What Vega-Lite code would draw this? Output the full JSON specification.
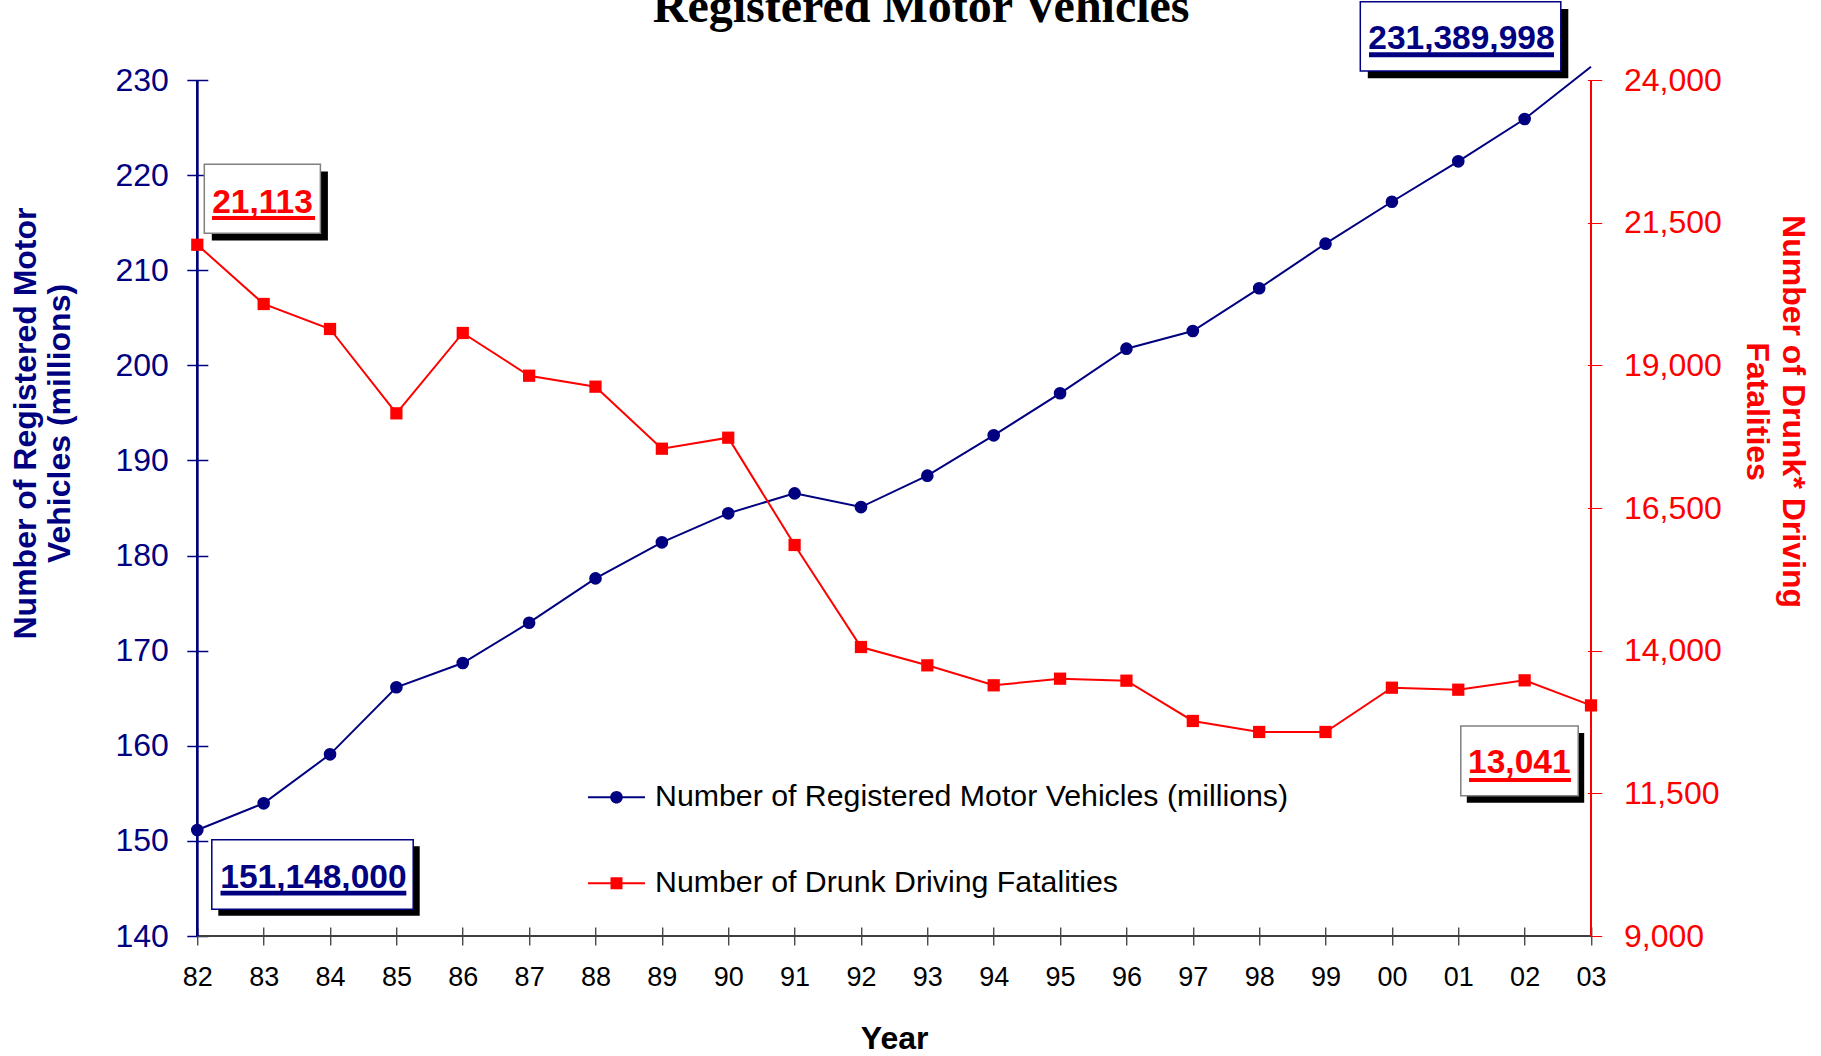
{
  "$schema": "https://vega.github.io/schema/vega-lite/v6.json",
  "width": 1393.7,
  "height": 856,
  "autosize": {"type": "none"},
  "padding": {"left": 197.3, "top": 80, "right": 230, "bottom": 120},
  "background": "white",
  "title": {"text": "Registered Motor Vehicles", "font": "Liberation Serif", "fontSize": 48, "fontWeight": "bold", "color": "black", "anchor": "middle", "frame": "group", "baseline": "alphabetic", "offset": 0, "dx": 27, "dy": 69},
  "config": {"view": {"stroke": null}, "axis": {"grid": false}, "font": "Liberation Sans"},
  "data": {"values": [
    {"year": 1982, "series": "Number of Registered Motor Vehicles (millions)", "value": 151.148, "label": "151,148,000"},
    {"year": 1983, "series": "Number of Registered Motor Vehicles (millions)", "value": 153.95},
    {"year": 1984, "series": "Number of Registered Motor Vehicles (millions)", "value": 159.1},
    {"year": 1985, "series": "Number of Registered Motor Vehicles (millions)", "value": 166.15},
    {"year": 1986, "series": "Number of Registered Motor Vehicles (millions)", "value": 168.7},
    {"year": 1987, "series": "Number of Registered Motor Vehicles (millions)", "value": 172.94},
    {"year": 1988, "series": "Number of Registered Motor Vehicles (millions)", "value": 177.6},
    {"year": 1989, "series": "Number of Registered Motor Vehicles (millions)", "value": 181.39},
    {"year": 1990, "series": "Number of Registered Motor Vehicles (millions)", "value": 184.44},
    {"year": 1991, "series": "Number of Registered Motor Vehicles (millions)", "value": 186.54},
    {"year": 1992, "series": "Number of Registered Motor Vehicles (millions)", "value": 185.1},
    {"year": 1993, "series": "Number of Registered Motor Vehicles (millions)", "value": 188.4},
    {"year": 1994, "series": "Number of Registered Motor Vehicles (millions)", "value": 192.64},
    {"year": 1995, "series": "Number of Registered Motor Vehicles (millions)", "value": 197.06},
    {"year": 1996, "series": "Number of Registered Motor Vehicles (millions)", "value": 201.75},
    {"year": 1997, "series": "Number of Registered Motor Vehicles (millions)", "value": 203.61},
    {"year": 1998, "series": "Number of Registered Motor Vehicles (millions)", "value": 208.1},
    {"year": 1999, "series": "Number of Registered Motor Vehicles (millions)", "value": 212.79},
    {"year": 2000, "series": "Number of Registered Motor Vehicles (millions)", "value": 217.2},
    {"year": 2001, "series": "Number of Registered Motor Vehicles (millions)", "value": 221.45},
    {"year": 2002, "series": "Number of Registered Motor Vehicles (millions)", "value": 225.9},
    {"year": 2003, "series": "Number of Registered Motor Vehicles (millions)", "value": 231.389998, "label": "231,389,998"},
    {"year": 1982, "series": "Number of Drunk Driving Fatalities", "value": 21113, "label": "21,113"},
    {"year": 1983, "series": "Number of Drunk Driving Fatalities", "value": 20075},
    {"year": 1984, "series": "Number of Drunk Driving Fatalities", "value": 19637},
    {"year": 1985, "series": "Number of Drunk Driving Fatalities", "value": 18159},
    {"year": 1986, "series": "Number of Drunk Driving Fatalities", "value": 19567},
    {"year": 1987, "series": "Number of Drunk Driving Fatalities", "value": 18818},
    {"year": 1988, "series": "Number of Drunk Driving Fatalities", "value": 18626},
    {"year": 1989, "series": "Number of Drunk Driving Fatalities", "value": 17539},
    {"year": 1990, "series": "Number of Drunk Driving Fatalities", "value": 17732},
    {"year": 1991, "series": "Number of Drunk Driving Fatalities", "value": 15852},
    {"year": 1992, "series": "Number of Drunk Driving Fatalities", "value": 14064},
    {"year": 1993, "series": "Number of Drunk Driving Fatalities", "value": 13743},
    {"year": 1994, "series": "Number of Drunk Driving Fatalities", "value": 13393},
    {"year": 1995, "series": "Number of Drunk Driving Fatalities", "value": 13509},
    {"year": 1996, "series": "Number of Drunk Driving Fatalities", "value": 13474},
    {"year": 1997, "series": "Number of Drunk Driving Fatalities", "value": 12768},
    {"year": 1998, "series": "Number of Drunk Driving Fatalities", "value": 12575},
    {"year": 1999, "series": "Number of Drunk Driving Fatalities", "value": 12575},
    {"year": 2000, "series": "Number of Drunk Driving Fatalities", "value": 13351},
    {"year": 2001, "series": "Number of Drunk Driving Fatalities", "value": 13316},
    {"year": 2002, "series": "Number of Drunk Driving Fatalities", "value": 13480},
    {"year": 2003, "series": "Number of Drunk Driving Fatalities", "value": 13041, "label": "13,041"}
  ]},
  "layer": [
    {
      "transform": [{"filter": "datum.series == 'Number of Registered Motor Vehicles (millions)'"}],
      "layer": [
        {"mark": {"type": "rule", "color": "#404040", "strokeWidth": 1.5}, "encoding": {"y": {"datum": 140, "type": "quantitative"}}},
        {"mark": {"type": "rule", "color": "#000080", "strokeWidth": 1.5}, "encoding": {"x": {"datum": 1982, "type": "quantitative"}}},
        {
          "mark": {"type": "line", "strokeWidth": 2},
          "encoding": {
            "x": {"field": "year", "type": "quantitative",
              "scale": {"domain": [1982, 2003], "nice": false, "zero": false},
              "axis": {"orient": "bottom", "values": [1982,1983,1984,1985,1986,1987,1988,1989,1990,1991,1992,1993,1994,1995,1996,1997,1998,1999,2000,2001,2002,2003],
                "format": "d", "labelExpr": "substring(datum.label, 2, 4)", "domain": false, "offset": -9, "tickSize": 18, "tickColor": "black", "tickWidth": 1,
                "labelColor": "black", "labelFont": "Liberation Sans", "labelFontSize": 27, "labelPadding": 19, "labelFlush": false, "labelOverlap": false,
                "title": "Year", "titleFont": "Liberation Sans", "titleFontSize": 32, "titleFontWeight": "bold", "titleColor": "black", "titleBaseline": "alphabetic", "titleY": 121}},
            "y": {"field": "value", "type": "quantitative",
              "scale": {"domain": [140, 230], "nice": false, "zero": false},
              "axis": {"orient": "left", "values": [140,150,160,170,180,190,200,210,220,230], "format": "d", "domain": false, "offset": -10.5, "tickSize": 21, "tickColor": "#000080", "tickWidth": 1.5,
                "labelColor": "#000080", "labelFont": "Liberation Sans", "labelFontSize": 32, "labelPadding": 18.5, "labelFlush": false, "labelOverlap": false,
                "title": ["Number of Registered Motor", "Vehicles (millions)"], "titleFont": "Liberation Sans", "titleFontSize": 32, "titleFontWeight": "bold", "titleColor": "#000080",
                "titleAngle": -90, "titleAlign": "center", "titleBaseline": "middle", "titleX": -182.4, "titleY": 343, "titleLineHeight": 34.5}},
            "color": {"field": "series", "type": "nominal",
              "scale": {"domain": ["Number of Registered Motor Vehicles (millions)", "Number of Drunk Driving Fatalities"], "range": ["#000080", "#FF0000"]},
              "legend": {"orient": "none", "legendX": 390.7, "legendY": 688.8, "title": null, "padding": 0, "symbolSize": 3249, "rowPadding": 41.9,
                "labelFont": "Liberation Sans", "labelFontSize": 30.3, "labelColor": "black", "labelOffset": 10, "labelLimit": 0,
                "encode": {"symbols": {"update": {
                  "shape": {"signal": "datum.value == 'Number of Registered Motor Vehicles (millions)' ? 'M-1,-0.035H1V0.035H-1Z M0.22,0A0.22,0.22,0,1,1,-0.22,0A0.22,0.22,0,1,1,0.22,0Z' : 'M-1,-0.035H1V0.035H-1Z M-0.21,-0.21H0.21V0.21H-0.21Z'"},
                  "fill": {"scale": "color", "field": "value"},
                  "strokeWidth": {"value": 0},
                  "opacity": {"value": 1}}}}}}
          }
        },
        {
          "transform": [{"filter": "datum.year != 2003"}],
          "mark": {"type": "point", "shape": "circle", "filled": true, "color": "#000080", "size": 160, "opacity": 1},
          "encoding": {"x": {"field": "year", "type": "quantitative"}, "y": {"field": "value", "type": "quantitative"}}
        },
        {
          "transform": [{"filter": "datum.year == 1982"}],
          "encoding": {"x": {"field": "year", "type": "quantitative"}, "x2": {"field": "year"}, "y": {"field": "value", "type": "quantitative"}, "y2": {"field": "value"}},
          "layer": [
            {"mark": {"type": "rect", "color": "black", "xOffset": 21, "x2Offset": 222.4, "yOffset": 16.4, "y2Offset": 85.7}},
            {"mark": {"type": "rect", "fill": "white", "stroke": "#000080", "strokeWidth": 1.5, "xOffset": 14.5, "x2Offset": 215.9, "yOffset": 9.9, "y2Offset": 79.2}},
            {"mark": {"type": "rect", "color": "#000080", "xOffset": 23.2, "x2Offset": 209, "yOffset": 60.9, "y2Offset": 65.6}},
            {"mark": {"type": "text", "font": "Liberation Sans", "fontWeight": "bold", "fontSize": 33.5, "color": "#000080", "align": "center", "baseline": "alphabetic", "dx": 116.1, "dy": 58.2},
             "encoding": {"x": {"field": "year", "type": "quantitative"}, "y": {"field": "value", "type": "quantitative"}, "text": {"field": "label"}}}
          ]
        },
        {
          "transform": [{"filter": "datum.year == 2003"}],
          "encoding": {"x": {"field": "year", "type": "quantitative"}, "x2": {"field": "year"}, "y": {"field": "value", "type": "quantitative"}, "y2": {"field": "value"}},
          "layer": [
            {"mark": {"type": "rect", "color": "black", "xOffset": -223.2, "x2Offset": -22.7, "yOffset": -57.8, "y2Offset": 11.5}},
            {"mark": {"type": "rect", "fill": "white", "stroke": "#000080", "strokeWidth": 1.5, "xOffset": -230.7, "x2Offset": -30.2, "yOffset": -65.1, "y2Offset": 4.2}},
            {"mark": {"type": "rect", "color": "#000080", "xOffset": -222, "x2Offset": -37, "yOffset": -14.5, "y2Offset": -9.5}},
            {"mark": {"type": "text", "font": "Liberation Sans", "fontWeight": "bold", "fontSize": 33.5, "color": "#000080", "align": "center", "baseline": "alphabetic", "dx": -129.6, "dy": -17.5},
             "encoding": {"x": {"field": "year", "type": "quantitative"}, "y": {"field": "value", "type": "quantitative"}, "text": {"field": "label"}}}
          ]
        }
      ]
    },
    {
      "transform": [{"filter": "datum.series == 'Number of Drunk Driving Fatalities'"}],
      "layer": [
        {"mark": {"type": "rule", "color": "#FF0000", "strokeWidth": 1}, "encoding": {"x": {"datum": 2003, "type": "quantitative"}}},
        {
          "mark": {"type": "line", "strokeWidth": 2},
          "encoding": {
            "x": {"field": "year", "type": "quantitative"},
            "y": {"field": "value", "type": "quantitative",
              "scale": {"domain": [9000, 24000], "nice": false, "zero": false},
              "axis": {"orient": "right", "values": [9000, 11500, 14000, 16500, 19000, 21500, 24000], "format": ",d", "domain": false, "offset": -3.7, "tickSize": 14.4, "tickColor": "#FF0000", "tickWidth": 1,
                "labelColor": "#FF0000", "labelFont": "Liberation Sans", "labelFontSize": 32, "labelPadding": 21.8, "labelFlush": false, "labelOverlap": false,
                "title": ["Number of Drunk* Driving", "Fatalities"], "titleFont": "Liberation Sans", "titleFontSize": 32, "titleFontWeight": "bold", "titleColor": "#FF0000",
                "titleAngle": 90, "titleAlign": "center", "titleBaseline": "middle", "titleX": 205.3, "titleY": 331, "titleLineHeight": 36}},
            "color": {"field": "series", "type": "nominal"}
          }
        },
        {
          "mark": {"type": "point", "shape": "square", "filled": true, "color": "#FF0000", "size": 150, "opacity": 1},
          "encoding": {"x": {"field": "year", "type": "quantitative"}, "y": {"field": "value", "type": "quantitative"}}
        },
        {
          "transform": [{"filter": "datum.year == 1982"}],
          "encoding": {"x": {"field": "year", "type": "quantitative"}, "x2": {"field": "year"}, "y": {"field": "value", "type": "quantitative"}, "y2": {"field": "value"}},
          "layer": [
            {"mark": {"type": "rect", "color": "black", "xOffset": 14.5, "x2Offset": 130.6, "yOffset": -73.2, "y2Offset": -4.2}},
            {"mark": {"type": "rect", "fill": "white", "stroke": "#808080", "strokeWidth": 1.5, "xOffset": 7, "x2Offset": 123.1, "yOffset": -80.5, "y2Offset": -11.5}},
            {"mark": {"type": "rect", "color": "#FF0000", "xOffset": 14.7, "x2Offset": 117.7, "yOffset": -28.8, "y2Offset": -24.8}},
            {"mark": {"type": "text", "font": "Liberation Sans", "fontWeight": "bold", "fontSize": 33.5, "color": "#FF0000", "align": "center", "baseline": "alphabetic", "dx": 65.2, "dy": -31.5},
             "encoding": {"x": {"field": "year", "type": "quantitative"}, "y": {"field": "value", "type": "quantitative"}, "text": {"field": "label"}}}
          ]
        },
        {
          "transform": [{"filter": "datum.year == 2003"}],
          "encoding": {"x": {"field": "year", "type": "quantitative"}, "x2": {"field": "year"}, "y": {"field": "value", "type": "quantitative"}, "y2": {"field": "value"}},
          "layer": [
            {"mark": {"type": "rect", "color": "black", "xOffset": -124.2, "x2Offset": -6.8, "yOffset": 27.6, "y2Offset": 97.3}},
            {"mark": {"type": "rect", "fill": "white", "stroke": "#808080", "strokeWidth": 1.5, "xOffset": -130.2, "x2Offset": -12.8, "yOffset": 20.6, "y2Offset": 90.3}},
            {"mark": {"type": "rect", "color": "#FF0000", "xOffset": -122, "x2Offset": -20, "yOffset": 72.6, "y2Offset": 76.6}},
            {"mark": {"type": "text", "font": "Liberation Sans", "fontWeight": "bold", "fontSize": 33.5, "color": "#FF0000", "align": "center", "baseline": "alphabetic", "dx": -71.7, "dy": 67.9},
             "encoding": {"x": {"field": "year", "type": "quantitative"}, "y": {"field": "value", "type": "quantitative"}, "text": {"field": "label"}}}
          ]
        }
      ]
    }
  ],
  "resolve": {"scale": {"y": "independent"}}
}
